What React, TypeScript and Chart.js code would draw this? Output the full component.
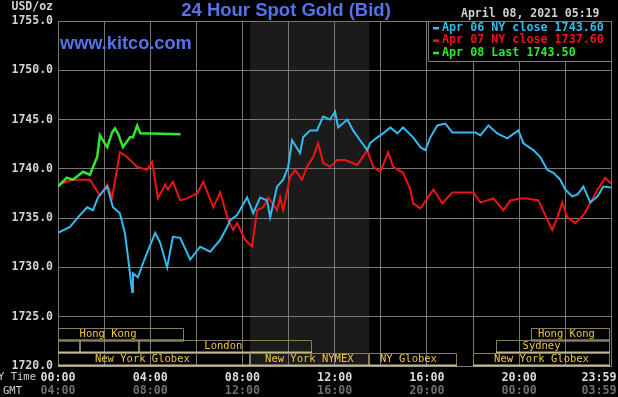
import React, { useEffect, useRef } from "react";
import { Chart, registerables } from "chart.js";

Chart.register(...registerables);

// ---- Data (minutes since 00:00 NY time, price USD/oz) ----
const apr06Minutes = [0,31,57,76,91,104,128,143,161,174,182,193,195,208,221,232,253,266,284,299,318,344,370,396,422,440,448,466,492,508,526,544,552,570,586,599,609,630,638,656,674,690,708,721,729,753,768,786,805,812,831,846,865,883,898,924,943,956,969,987,1008,1026,1086,1099,1120,1143,1169,1198,1211,1237,1255,1273,1289,1307,1320,1338,1352,1367,1385,1404,1419,1439];
const apr06Values = [1733.5,1734.1,1735.3,1736.1,1735.8,1737.1,1738.2,1736.1,1735.5,1733.5,1731.1,1727.5,1729.4,1729.0,1730.4,1731.5,1733.5,1732.5,1730.0,1733.1,1733.0,1730.8,1732.1,1731.6,1732.8,1734.1,1734.8,1735.3,1737.1,1735.5,1737.1,1736.8,1735.1,1738.2,1738.9,1740.2,1742.9,1741.6,1743.2,1743.9,1743.9,1745.3,1745.0,1745.8,1744.2,1745.0,1743.9,1742.9,1741.9,1742.6,1743.2,1743.6,1744.2,1743.6,1744.2,1743.2,1742.2,1741.9,1743.2,1744.4,1744.6,1743.7,1743.7,1743.4,1744.4,1743.6,1743.1,1743.9,1742.6,1741.9,1741.2,1739.9,1739.6,1738.9,1737.9,1737.2,1737.4,1738.2,1736.6,1737.2,1738.2,1738.1];

const apr07Minutes = [0,39,83,109,128,141,161,180,206,232,245,260,279,286,299,318,336,362,378,404,422,443,456,466,487,505,518,534,547,560,570,578,586,604,617,635,648,664,677,690,708,727,747,779,805,820,839,859,872,898,917,924,943,977,1000,1026,1081,1099,1117,1133,1159,1177,1203,1221,1250,1268,1286,1299,1312,1325,1346,1367,1385,1404,1424,1439];
const apr07Values = [1738.4,1738.9,1738.9,1737.3,1738.4,1737.1,1741.7,1741.2,1740.2,1739.9,1740.7,1737.0,1738.4,1737.9,1738.7,1736.8,1737.0,1737.5,1738.7,1736.1,1737.6,1734.8,1733.8,1734.5,1732.8,1732.1,1735.8,1736.1,1737.1,1736.4,1735.8,1737.1,1735.8,1739.2,1739.9,1738.9,1740.2,1741.2,1742.6,1740.6,1740.2,1740.9,1740.9,1740.4,1741.9,1740.2,1739.7,1741.7,1740.2,1739.6,1737.9,1736.5,1736.0,1737.9,1736.5,1737.6,1737.6,1736.6,1736.8,1737.0,1735.8,1736.8,1737.0,1737.0,1736.8,1735.3,1733.8,1735.0,1736.6,1735.1,1734.5,1735.3,1736.5,1737.9,1739.1,1738.5];

const apr08Minutes = [0,23,39,65,83,102,109,128,141,148,156,169,187,195,206,214,319];
const apr08Values = [1738.2,1739.1,1738.9,1739.7,1739.4,1741.2,1743.4,1742.2,1743.7,1744.1,1743.6,1742.2,1743.2,1743.2,1744.4,1743.6,1743.5];

const legendLabels = ["Apr 06 NY close 1743.60", "Apr 07 NY close 1737.60", "Apr 08 Last 1743.50"];
const seriesColors = ["#33bbee", "#ee1414", "#33e633"];

const nyTickMinutes = [0, 240, 480, 720, 960, 1200, 1439];
const nyTickLabels = ["00:00", "04:00", "08:00", "12:00", "16:00", "20:00", "23:59"];
const gmtTickLabels = ["04:00", "08:00", "12:00", "16:00", "20:00", "00:00", "03:59"];
const gridMinutes = [0,120,240,360,480,600,720,840,960,1080,1200,1320,1439];

// NYMEX pit session shading (minutes)
const nymexStart = 500;
const nymexEnd = 810;

// Market sessions: name, row (0 top), start hour, end hour, label centre hour
const sessionNames = ["Hong Kong", "Hong Kong", "", "", "London", "Sydney", "New York Globex", "New York NYMEX", "NY Globex", "New York Globex"];
const sessionRows = [0, 0, 1, 1, 1, 1, 2, 2, 2, 2];
const sessionStarts = [0, 20.5, 0, 0.95, 3.5, 19.0, 0, 8.33, 13.5, 18.0];
const sessionEnds = [5.47, 24, 0.95, 3.5, 11.0, 24, 8.33, 13.5, 17.3, 24];
const sessionLabelAt = [2.17, 22.05, 0, 0, 7.17, 20.97, 3.66, 10.9, 15.2, 20.97];

const MONO = '"DejaVu Sans Mono", "Liberation Mono", monospace';
const SANS = '"Liberation Sans", Arial, sans-serif';

const toPoints = (m: number[], v: number[]) => m.map((x, i) => ({ x, y: v[i] }));

const decorPlugin = {
  id: "kitcoDecor",
  beforeDraw(chart: any) {
    const { ctx, chartArea, scales } = chart;
    ctx.save();
    ctx.fillStyle = "#000";
    ctx.fillRect(0, 0, chart.width, chart.height);
    const x0 = scales.x.getPixelForValue(nymexStart);
    const x1 = scales.x.getPixelForValue(nymexEnd);
    ctx.fillStyle = "#1b1b1b";
    ctx.fillRect(x0, chartArea.top, x1 - x0, chartArea.bottom - chartArea.top);
    ctx.restore();
  },
  afterDraw(chart: any) {
    const { ctx, chartArea, scales } = chart;
    const xs = scales.x;
    ctx.save();

    // Title
    ctx.textBaseline = "alphabetic";
    ctx.textAlign = "center";
    ctx.fillStyle = "#5573eb";
    ctx.font = `bold 18.5px ${SANS}`;
    ctx.fillText("24 Hour Spot Gold (Bid)", 286, 16);

    // kitco
    ctx.textAlign = "left";
    ctx.font = `bold 18.2px ${SANS}`;
    ctx.fillText("www.kitco.com", chartArea.left + 2, 49);

    // USD/oz
    ctx.textBaseline = "middle";
    ctx.textAlign = "right";
    ctx.fillStyle = "#d4d4d4";
    ctx.font = `bold 11.5px ${MONO}`;
    ctx.fillText("USD/oz", chartArea.left - 5, 7);

    // Date
    ctx.textAlign = "left";
    ctx.fillStyle = "#cfcfcf";
    ctx.fillText("April 08, 2021 05:19", 461, 14);

    // Legend box
    const lbLeft = 428;
    const lbBottom = 61;
    ctx.fillStyle = "#000";
    ctx.fillRect(lbLeft + 1, chartArea.top + 1, chartArea.right - lbLeft - 2, lbBottom - chartArea.top - 1);
    ctx.strokeStyle = "#7a7a7a";
    ctx.lineWidth = 1;
    ctx.beginPath();
    ctx.moveTo(lbLeft + 0.5, chartArea.top);
    ctx.lineTo(lbLeft + 0.5, lbBottom + 0.5);
    ctx.lineTo(chartArea.right, lbBottom + 0.5);
    ctx.stroke();
    ctx.font = `bold 11.7px ${MONO}`;
    legendLabels.forEach((t, i) => {
      const y = 28 + i * 12.4;
      ctx.fillStyle = seriesColors[i];
      ctx.fillRect(433, y - 1, 6, 2.5);
      ctx.fillText(t, 442, y);
    });

    // Market session boxes
    const rowTop = [328, 340, 353];
    const rowH = 12.5;
    ctx.font = `10.5px ${MONO}`;
    ctx.textAlign = "center";
    sessionNames.forEach((name, i) => {
      const r = sessionRows[i];
      const xa = Math.round(xs.getPixelForValue(sessionStarts[i] * 60)) + 0.5;
      const xb = Math.min(Math.round(xs.getPixelForValue(sessionEnds[i] * 60)) - 0.5, chartArea.right - 1.5);
      const yt = rowTop[r] + 0.5;
      const yb = rowTop[r] + rowH;
      ctx.strokeStyle = "#85805a";
      ctx.lineWidth = 1;
      ctx.beginPath();
      ctx.moveTo(xa, yb);
      ctx.lineTo(xa, yt);
      ctx.lineTo(xb, yt);
      ctx.lineTo(xb, yb);
      ctx.stroke();
      ctx.strokeStyle = "#c2b991";
      ctx.lineWidth = 2;
      ctx.beginPath();
      ctx.moveTo(xa - 0.5, yb);
      ctx.lineTo(xb + 0.5, yb);
      ctx.stroke();
      if (name) {
        ctx.fillStyle = "#f2c640";
        ctx.fillText(name, xs.getPixelForValue(sessionLabelAt[i] * 60), rowTop[r] + rowH / 2 + 0.5);
      }
    });

    // X axis labels (two rows)
    ctx.font = `bold 11.7px ${MONO}`;
    nyTickMinutes.forEach((m, i) => {
      let px = xs.getPixelForValue(m);
      if (i === nyTickMinutes.length - 1) px = 599;
      ctx.fillStyle = "#dcdcdc";
      ctx.fillText(nyTickLabels[i], px, 377.5);
      ctx.fillStyle = "#6e6e6e";
      ctx.fillText(gmtTickLabels[i], px, 391);
    });
    ctx.font = `10.5px ${MONO}`;
    ctx.fillStyle = "#d0d0d0";
    ctx.textAlign = "right";
    ctx.fillText("NY Time", 36, 377.5);
    ctx.textAlign = "left";
    ctx.fillText("GMT", 3, 391);

    ctx.restore();
  },
};

export default function App() {
  const canvasRef = useRef<HTMLCanvasElement | null>(null);

  useEffect(() => {
    const canvas = canvasRef.current;
    if (!canvas) return;
    const chart = new Chart(canvas, {
      type: "line",
      data: {
        datasets: [
          {
            label: legendLabels[2],
            data: toPoints(apr08Minutes, apr08Values),
            borderColor: seriesColors[2],
            borderWidth: 2.5,
            pointRadius: 0,
            tension: 0,
          },
          {
            label: legendLabels[0],
            data: toPoints(apr06Minutes, apr06Values),
            borderColor: seriesColors[0],
            borderWidth: 2,
            pointRadius: 0,
            tension: 0,
          },
          {
            label: legendLabels[1],
            data: toPoints(apr07Minutes, apr07Values),
            borderColor: seriesColors[1],
            borderWidth: 2,
            pointRadius: 0,
            tension: 0,
          },
        ],
      },
      options: {
        responsive: false,
        animation: false,
        devicePixelRatio: 1,
        layout: { padding: { top: 21, right: 7, bottom: 31, left: 0 } },
        plugins: { legend: { display: false }, tooltip: { enabled: false }, title: { display: false } },
        scales: {
          x: {
            type: "linear",
            min: 0,
            max: 1439,
            afterBuildTicks: (scale: any) => {
              scale.ticks = gridMinutes.map((v) => ({ value: v }));
            },
            afterFit: (scale: any) => {
              scale.height = 0;
            },
            ticks: { display: false },
            grid: { color: "#777", lineWidth: 1, drawTicks: false },
            border: { display: true, color: "#777" },
          },
          y: {
            type: "linear",
            min: 1720,
            max: 1755,
            afterFit: (scale: any) => {
              scale.width = 58;
            },
            ticks: {
              stepSize: 5,
              padding: 5,
              color: "#d4d4d4",
              font: { family: MONO, size: 11.5, weight: "bold" },
              callback: (v: any) => Number(v).toFixed(1),
            },
            grid: { color: "#777", lineWidth: 1, drawTicks: false },
            border: { display: true, color: "#777" },
          },
        },
      },
      plugins: [decorPlugin],
    });
    return () => chart.destroy();
  }, []);

  return (
    <div style={{ position: "fixed", left: 0, top: 0, width: 618, height: 397, background: "#000" }}>
      <canvas ref={canvasRef} width={618} height={397} style={{ display: "block" }} />
    </div>
  );
}
